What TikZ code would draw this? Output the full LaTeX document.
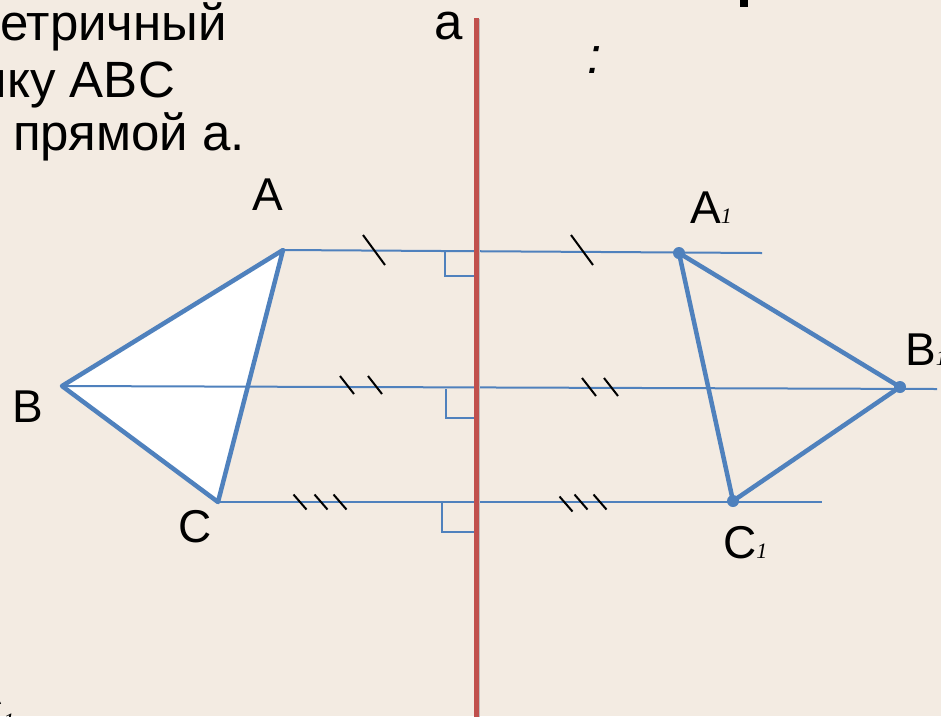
\documentclass[tikz,border=0pt]{standalone}
\usepackage{fontspec}
\setmainfont{Liberation Sans}
\newfontfamily\subfont{Liberation Serif}
\usepackage{xcolor}
\usetikzlibrary{positioning, calc}

\definecolor{paper}{HTML}{F3EBE2}
\definecolor{figblue}{HTML}{4F81BD}
\definecolor{axisred}{HTML}{C0504D}

\newcommand{\idx}{{\subfont\itshape\fontsize{22}{22}\selectfont 1}}

\begin{document}
\begin{tikzpicture}[
    x=1pt, y=-1pt,
    bigtext/.style={inner sep=0pt, font=\fontsize{51}{51}\selectfont},
    vlabel/.style={inner sep=0pt, font=\fontsize{46}{46}\selectfont},
    side/.style={draw=figblue, line width=4.5pt, line join=round},
    perp/.style={draw=figblue, line width=2pt},
    rightmark/.style={draw=figblue, line width=1.6pt},
    tickmark/.style={draw=black, line width=2pt},
    axis/.style={draw=axisred, line width=5pt},
    vdot/.style={fill=figblue, draw=none}
]
    \useasboundingbox (0,0) rectangle (941,716);
    \fill[paper] (0,0) rectangle (941,716);
    \clip (0,0) rectangle (941,716);

    % Points
    \coordinate (A) at (283,250);
    \coordinate (B) at (62,386);
    \coordinate (C) at (218,502);
    \coordinate (A1) at (679,253);
    \coordinate (B1) at (900,387);
    \coordinate (C1) at (733,501);
    \coordinate (Aend) at (762,253);
    \coordinate (Bend) at (937,389);
    \coordinate (Cend) at (822,502);
    \coordinate (atop) at (476,18);
    \coordinate (abot) at (476,720);

    % Text
    \node (line1) [bigtext, anchor=base east] at (227,40) {етричный};
    \node (line2) [bigtext, anchor=base east] at (175,97) {ику ABC};
    \node (line3) [bigtext, anchor=base east] at (245,150) {прямой а.};
    \node (colon) [bigtext, anchor=center, font=\fontsize{51}{51}\selectfont\itshape] at (595,60) {:};
    \fill[black] (740,-2) rectangle (748,7);
    \node (alab) [bigtext, anchor=base west] at (434,39) {a};

    % Triangle ABC
    \fill[white] (A) -- (B) -- (C) -- cycle;

    % Flows
    \draw [perp] (A) -- (Aend);
    \draw [perp] (B) -- (Bend);
    \draw [perp] (C) -- (Cend);
    \draw [side] (A) -- (B) -- (C) -- cycle;
    \draw [side] (A1) -- (B1) -- (C1) -- cycle;
    \foreach \p in {A1, B1, C1}
        \fill [vdot] (\p) circle (6);

    % Right angles
    \draw [rightmark] (445,251) |- (475,276);
    \draw [rightmark] (446,389) |- (475,418);
    \draw [rightmark] (442,503) |- (475,532);

    % Equal marks
    \foreach \cx/\cy in {374/250, 582/250}
        \draw [tickmark] (\cx-11,\cy-15) -- (\cx+11,\cy+15);
    \foreach \cx/\cy in {347/385, 375/385, 589/387, 611/387}
        \draw [tickmark] (\cx-7,\cy-9) -- (\cx+7,\cy+9);
    \foreach \cx/\cy in {300/502, 321/502, 340/502, 566/504, 581/502, 600/502}
        \draw [tickmark] (\cx-6.5,\cy-7.5) -- (\cx+6.5,\cy+7.5);

    % Axis a
    \draw [draw=black!25, line width=5pt] ($(atop)+(1.5,1)$) -- ($(abot)+(1.5,1)$);
    \draw [axis] (atop) -- (abot);

    % Labels
    \node (labA) [vlabel, anchor=base west] at (252,210) {A};
    \node (labB) [vlabel, anchor=base west] at (12,422) {B};
    \node (labC) [vlabel, anchor=base west] at (178,542) {C};
    \node (labA1) [vlabel, anchor=base west] at (690,223) {A\idx};
    \node (labB1) [vlabel, anchor=base west] at (905,365) {B\idx};
    \node (labC1) [vlabel, anchor=base west] at (723,558) {C\idx};
    \node (labCc) [vlabel, anchor=base west] at (-30,728) {C\idx};
\end{tikzpicture}
\end{document}
